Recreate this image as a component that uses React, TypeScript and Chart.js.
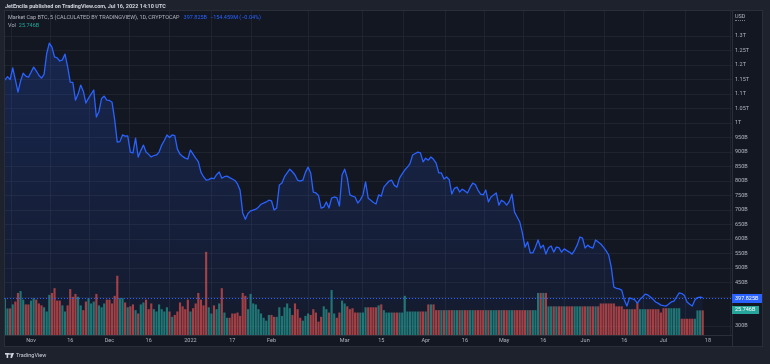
import React, { useEffect, useRef } from "react";
import { Chart, registerables } from "chart.js";

Chart.register(...registerables);

const HEADER = "JetEncila published on TradingView.com, Jul 16, 2022 14:10 UTC";
const SERIES_TITLE = "Market Cap BTC, 5 (CALCULATED BY TRADINGVIEW), 1D, CRYPTOCAP";
const LAST_VALUE_TEXT = "397.825B";
const LAST_CHANGE = "\u2212154.459M (\u22120.04%)";
const VOL_TITLE = "Vol";
const VOL_VALUE_TEXT = "25.746B";
const CURRENCY = "USD";
const BRAND = "TradingView";

// daily values, day 0 = 2021-10-22, last = 2022-07-16 (billions USD)
const marketCapB = [
  1148, 1160, 1150, 1190, 1150, 1107, 1145, 1172, 1162, 1158,
  1175, 1193, 1180, 1165, 1155, 1168, 1240, 1276, 1262, 1228,
  1225, 1214, 1218, 1238, 1195, 1141, 1140, 1079, 1100, 1131,
  1110, 1069, 1086, 1100, 1114, 1021, 1040, 1085, 1093, 1079,
  1078, 1072, 1012, 934, 936, 959, 955, 956, 900, 897,
  948, 883, 905, 924, 900, 892, 883, 888, 890, 900,
  924, 940, 959, 950, 959, 957, 910, 893, 885, 879,
  876, 907, 893, 879, 867, 831, 815, 803, 805, 810,
  808, 822, 831, 810, 815, 817, 812, 807, 802, 790,
  768, 690, 668, 688, 697, 700, 703, 710, 720, 724,
  728, 734, 732, 700, 707, 786, 793, 815, 828, 841,
  832, 821, 803, 800, 803, 830, 848, 828, 762, 759,
  750, 707, 710, 728, 707, 741, 745, 743, 714, 821,
  841, 810, 752, 748, 745, 724, 735, 752, 797, 741,
  734, 726, 721, 752, 748, 779, 790, 800, 803, 785,
  779, 810, 825, 838, 848, 860, 890, 895, 900, 897,
  866, 879, 872, 883, 875, 862, 828, 828, 807, 814,
  805, 755, 775, 779, 762, 772, 766, 759, 778, 793,
  788, 769, 755, 752, 769, 728, 745, 752, 759, 717,
  734, 728, 717, 730, 755, 693, 676, 659, 621, 572,
  590, 552, 552, 572, 597, 569, 579, 548, 570, 576,
  555, 572, 570, 555, 566, 560, 555, 548, 562, 580,
  607, 603, 569, 579, 572, 569, 597, 590, 583, 572,
  560, 545, 503, 434, 430, 428, 424, 390, 369, 397,
  394, 390, 379, 392, 400, 410, 407, 400, 392, 383,
  378, 372, 370, 369, 376, 383, 386, 400, 414, 412,
  405, 383, 375, 369, 390, 398, 400, 397.825,
];

const volumeB = [
  38.5, 27.8, 27.8, 32, 35, 44, 46, 37, 32, 32,
  36, 38.5, 37, 33, 31, 29, 24.6, 42, 44, 49,
  36, 36, 31, 24.6, 31, 48, 40, 43, 40, 31,
  26, 35, 38.5, 33, 35, 43, 31, 29, 33, 37,
  37, 33, 41, 62, 38.5, 38.5, 34, 29, 30, 32,
  26, 22.5, 32, 34, 37, 27, 33, 27, 24.6, 32,
  27, 24.6, 29, 24.6, 19, 21, 24.6, 34, 30, 27,
  37, 24.6, 28, 33, 44, 37, 31, 87, 29, 22.5,
  31, 27, 33, 49, 23.5, 18, 18, 22.5, 22.5, 23.5,
  20, 44, 41, 27, 43, 33, 32, 27, 22.5, 18,
  15, 21, 21, 19, 19, 29, 20, 29, 33, 28,
  21, 33, 27, 18, 15, 20, 22.5, 21, 27, 23.5,
  14, 19, 30, 27, 23.5, 47, 22.5, 18, 23.5, 36,
  33, 30, 27, 28, 23.5, 23.5, 23.5, 23.5, 29, 29,
  29, 29, 29, 31, 32, 26, 23.5, 23.5, 23.5, 23.5,
  23.5, 23.5, 23.5, 41, 24.6, 24.6, 24.6, 24.6, 24.6, 24.6,
  24.6, 24.6, 32, 32, 32, 26, 26, 26, 26, 26,
  26, 26, 26, 26, 26, 26, 26, 26, 26, 26,
  26, 26, 26, 26, 26, 26, 26, 26, 26, 26,
  26, 26, 26, 26, 26, 26, 26, 26, 26, 26,
  26, 26, 26, 26, 44, 44, 44, 44, 30, 30,
  30, 30, 30, 30, 30, 30, 30, 30, 30, 30,
  30, 30, 30, 30, 30, 30, 30, 30, 33, 33,
  33, 33, 33, 33, 30, 30, 30, 27, 27, 27,
  27, 27, 34, 27, 27, 27, 27, 27, 27, 27,
  27, 23.5, 28, 28, 28, 28, 28, 28, 28, 17,
  17, 17, 17, 17, 17, 25.746, 25.746, 25.746,
];

const timeTickDays = [10, 25, 40, 55, 71, 87, 102, 130, 144, 161, 176, 191, 206, 222, 237, 252, 269];
const timeTickLabels = ["Nov", "16", "Dec", "16", "2022", "17", "Feb", "Mar", "15", "Apr", "16", "May", "16", "Jun", "16", "Jul", "18"];
const priceTicksB = [300, 400, 450, 500, 550, 600, 650, 700, 750, 800, 850, 900, 950, 1000, 1050, 1100, 1150, 1200, 1250, 1300];

const fmtPrice = (v: number) => (v >= 1000 ? `${+(v / 1000).toFixed(2)}T` : `${v}B`);

const BG_OUT = "#1e222d";
const BG_PANEL = "#131722";
const BORDER = "#2a2e39";
const GRID = "rgba(42,46,57,0.55)";
const TEXT = "#b2b5be";
const BLUE = "#2962ff";
const TEAL = "#26a69a";
const GREEN_BAR = "rgba(38,166,154,0.66)";
const RED_BAR = "rgba(239,83,80,0.66)";
const FONT = 'Roboto, "DejaVu Sans", sans-serif';

const panelPlugin = {
  id: "panel",
  beforeDraw(chart: any) {
    const c = chart.ctx;
    c.save();
    c.fillStyle = BG_OUT;
    c.fillRect(0, 0, chart.width, chart.height);
    c.fillStyle = BG_PANEL;
    c.fillRect(4, 10, 759, 337);
    c.restore();
  },
  afterDraw(chart: any) {
    const c = chart.ctx;
    const a = chart.chartArea;
    const ys = chart.scales.y;
    const yv = chart.scales.yv;
    const last = marketCapB[marketCapB.length - 1];
    const lastVol = volumeB[volumeB.length - 1];
    c.save();
    c.strokeStyle = BORDER;
    c.lineWidth = 1;
    c.strokeRect(4.5, 10.5, 758, 336);
    c.beginPath();
    c.moveTo(a.right + 0.5, 10);
    c.lineTo(a.right + 0.5, 347);
    c.moveTo(4, a.bottom + 0.5);
    c.lineTo(a.right, a.bottom + 0.5);
    c.stroke();
    // price line
    const py = Math.round(ys.getPixelForValue(last)) + 0.5;
    c.setLineDash([1, 2]);
    c.strokeStyle = BLUE;
    c.beginPath();
    c.moveTo(a.left, py);
    c.lineTo(a.right, py);
    c.stroke();
    c.setLineDash([]);
    // price label
    c.fillStyle = BLUE;
    c.fillRect(a.right, py - 4.5, 30, 9);
    c.fillStyle = "#ffffff";
    c.font = `5.5px ${FONT}`;
    c.textBaseline = "middle";
    c.textAlign = "left";
    c.fillText(LAST_VALUE_TEXT, a.right + 3, py);
    // volume label
    const vy = Math.round(yv.getPixelForValue(lastVol));
    c.fillStyle = TEAL;
    c.fillRect(a.right, vy - 4, 27, 8);
    c.fillStyle = "#ffffff";
    c.fillText(VOL_VALUE_TEXT, a.right + 3, vy);
    c.restore();
  },
};

export default function App() {
  const ref = useRef<HTMLCanvasElement>(null);

  useEffect(() => {
    const pts = marketCapB.map((v, i) => ({ x: i, y: v }));
    const vols = volumeB.map((v, i) => ({ x: i, y: v }));
    const volColors = volumeB.map((_, i) =>
      i === 0 || marketCapB[i] >= marketCapB[i - 1] ? GREEN_BAR : RED_BAR
    );
    const chart = new Chart(ref.current as HTMLCanvasElement, {
      type: "line",
      data: {
        datasets: [
          {
            type: "line",
            data: pts,
            yAxisID: "y",
            borderColor: BLUE,
            borderWidth: 1.3,
            pointRadius: 0,
            fill: false,
            tension: 0,
            order: 0,
            borderJoinStyle: "round",
          } as any,
          {
            type: "bar",
            data: vols,
            yAxisID: "yv",
            backgroundColor: volColors,
            barPercentage: 0.82,
            categoryPercentage: 1,
            order: 1,
          } as any,
          {
            type: "line",
            data: pts,
            yAxisID: "y",
            borderWidth: 0,
            borderColor: "rgba(0,0,0,0)",
            pointRadius: 0,
            fill: "start",
            order: 2,
            backgroundColor: (ctx: any) => {
              const ch = ctx.chart;
              const ar = ch.chartArea;
              if (!ar) return "rgba(41,98,255,0.12)";
              const g = ch.ctx.createLinearGradient(0, ar.top, 0, ar.bottom);
              g.addColorStop(0, "rgba(41,98,255,0.22)");
              g.addColorStop(1, "rgba(41,98,255,0.05)");
              return g;
            },
          } as any,
        ],
      },
      options: {
        responsive: false,
        maintainAspectRatio: false,
        animation: false,
        layout: { padding: { left: 4, top: 10, right: 7, bottom: 17 } },
        plugins: { legend: { display: false }, tooltip: { enabled: false } },
        scales: {
          x: {
            type: "linear",
            position: "bottom",
            min: -0.34,
            max: 278.2,
            offset: false,
            afterBuildTicks: (s: any) => {
              s.ticks = timeTickDays.map((v) => ({ value: v }));
            },
            afterFit: (s: any) => {
              s.height = 12;
            },
            ticks: {
              autoSkip: false,
              maxRotation: 0,
              padding: 2,
              color: TEXT,
              font: { family: FONT, size: 5.5 },
              callback: (v: any) => {
                const i = timeTickDays.indexOf(Number(v));
                return i >= 0 ? timeTickLabels[i] : "";
              },
            },
            grid: { color: GRID, drawTicks: false, lineWidth: 1 },
            border: { display: false },
          },
          y: {
            type: "linear",
            position: "right",
            min: 269,
            max: 1390,
            afterBuildTicks: (s: any) => {
              s.ticks = priceTicksB.map((v) => ({ value: v }));
            },
            afterFit: (s: any) => {
              s.width = 31;
            },
            ticks: {
              padding: 3,
              color: TEXT,
              font: { family: FONT, size: 5.5 },
              callback: (v: any) => fmtPrice(Number(v)),
            },
            grid: { color: GRID, drawTicks: false, lineWidth: 1 },
            border: { display: false },
          },
          yv: {
            type: "linear",
            display: false,
            min: 0,
            max: 340,
          },
        },
      } as any,
      plugins: [panelPlugin],
    });
    return () => chart.destroy();
  }, []);

  return (
    <div
      style={{
        position: "fixed",
        left: 0,
        top: 0,
        width: 770,
        height: 364,
        background: BG_OUT,
        overflow: "hidden",
        fontFamily: FONT,
      }}
    >
      <canvas
        ref={ref}
        width={770}
        height={364}
        style={{ position: "absolute", left: 0, top: 0, width: 770, height: 364 }}
      />
      <div
        style={{
          position: "absolute",
          left: 5,
          top: 1.5,
          fontSize: 5.5,
          fontWeight: 700,
          color: "#d1d4dc",
          lineHeight: "8px",
          whiteSpace: "nowrap",
        }}
      >
        {HEADER}
      </div>
      <div
        style={{
          position: "absolute",
          left: 8,
          top: 14,
          fontSize: 5.5,
          color: TEXT,
          lineHeight: "7px",
          whiteSpace: "nowrap",
        }}
      >
        {SERIES_TITLE}
        <span style={{ color: BLUE, marginLeft: 4 }}>{LAST_VALUE_TEXT}</span>
        <span style={{ color: BLUE, marginLeft: 3 }}>{LAST_CHANGE}</span>
      </div>
      <div
        style={{
          position: "absolute",
          left: 8,
          top: 21.5,
          fontSize: 5.5,
          color: TEXT,
          lineHeight: "7px",
          whiteSpace: "nowrap",
        }}
      >
        {VOL_TITLE}
        <span style={{ color: TEAL, marginLeft: 3 }}>{VOL_VALUE_TEXT}</span>
      </div>
      <div
        style={{
          position: "absolute",
          left: 735,
          top: 13,
          fontSize: 5.5,
          color: TEXT,
          lineHeight: "7px",
          borderBottom: "1px dotted #787b86",
        }}
      >
        {CURRENCY}
      </div>
      <div
        style={{
          position: "absolute",
          left: 5,
          top: 352,
          display: "flex",
          alignItems: "center",
          gap: 2,
          fontSize: 5.5,
          color: "#d1d4dc",
          lineHeight: "7px",
          whiteSpace: "nowrap",
        }}
      >
        <svg width="9" height="5" viewBox="0 0 9 5">
          <rect x="0" y="0" width="4" height="1.6" fill="#d1d4dc" />
          <rect x="1.6" y="0" width="1.6" height="5" fill="#d1d4dc" />
          <circle cx="5" cy="1" r="0.9" fill="#d1d4dc" />
          <polygon points="6.3,0 9,0 7,5 5.4,5" fill="#d1d4dc" />
        </svg>
        <span>{BRAND}</span>
      </div>
    </div>
  );
}
